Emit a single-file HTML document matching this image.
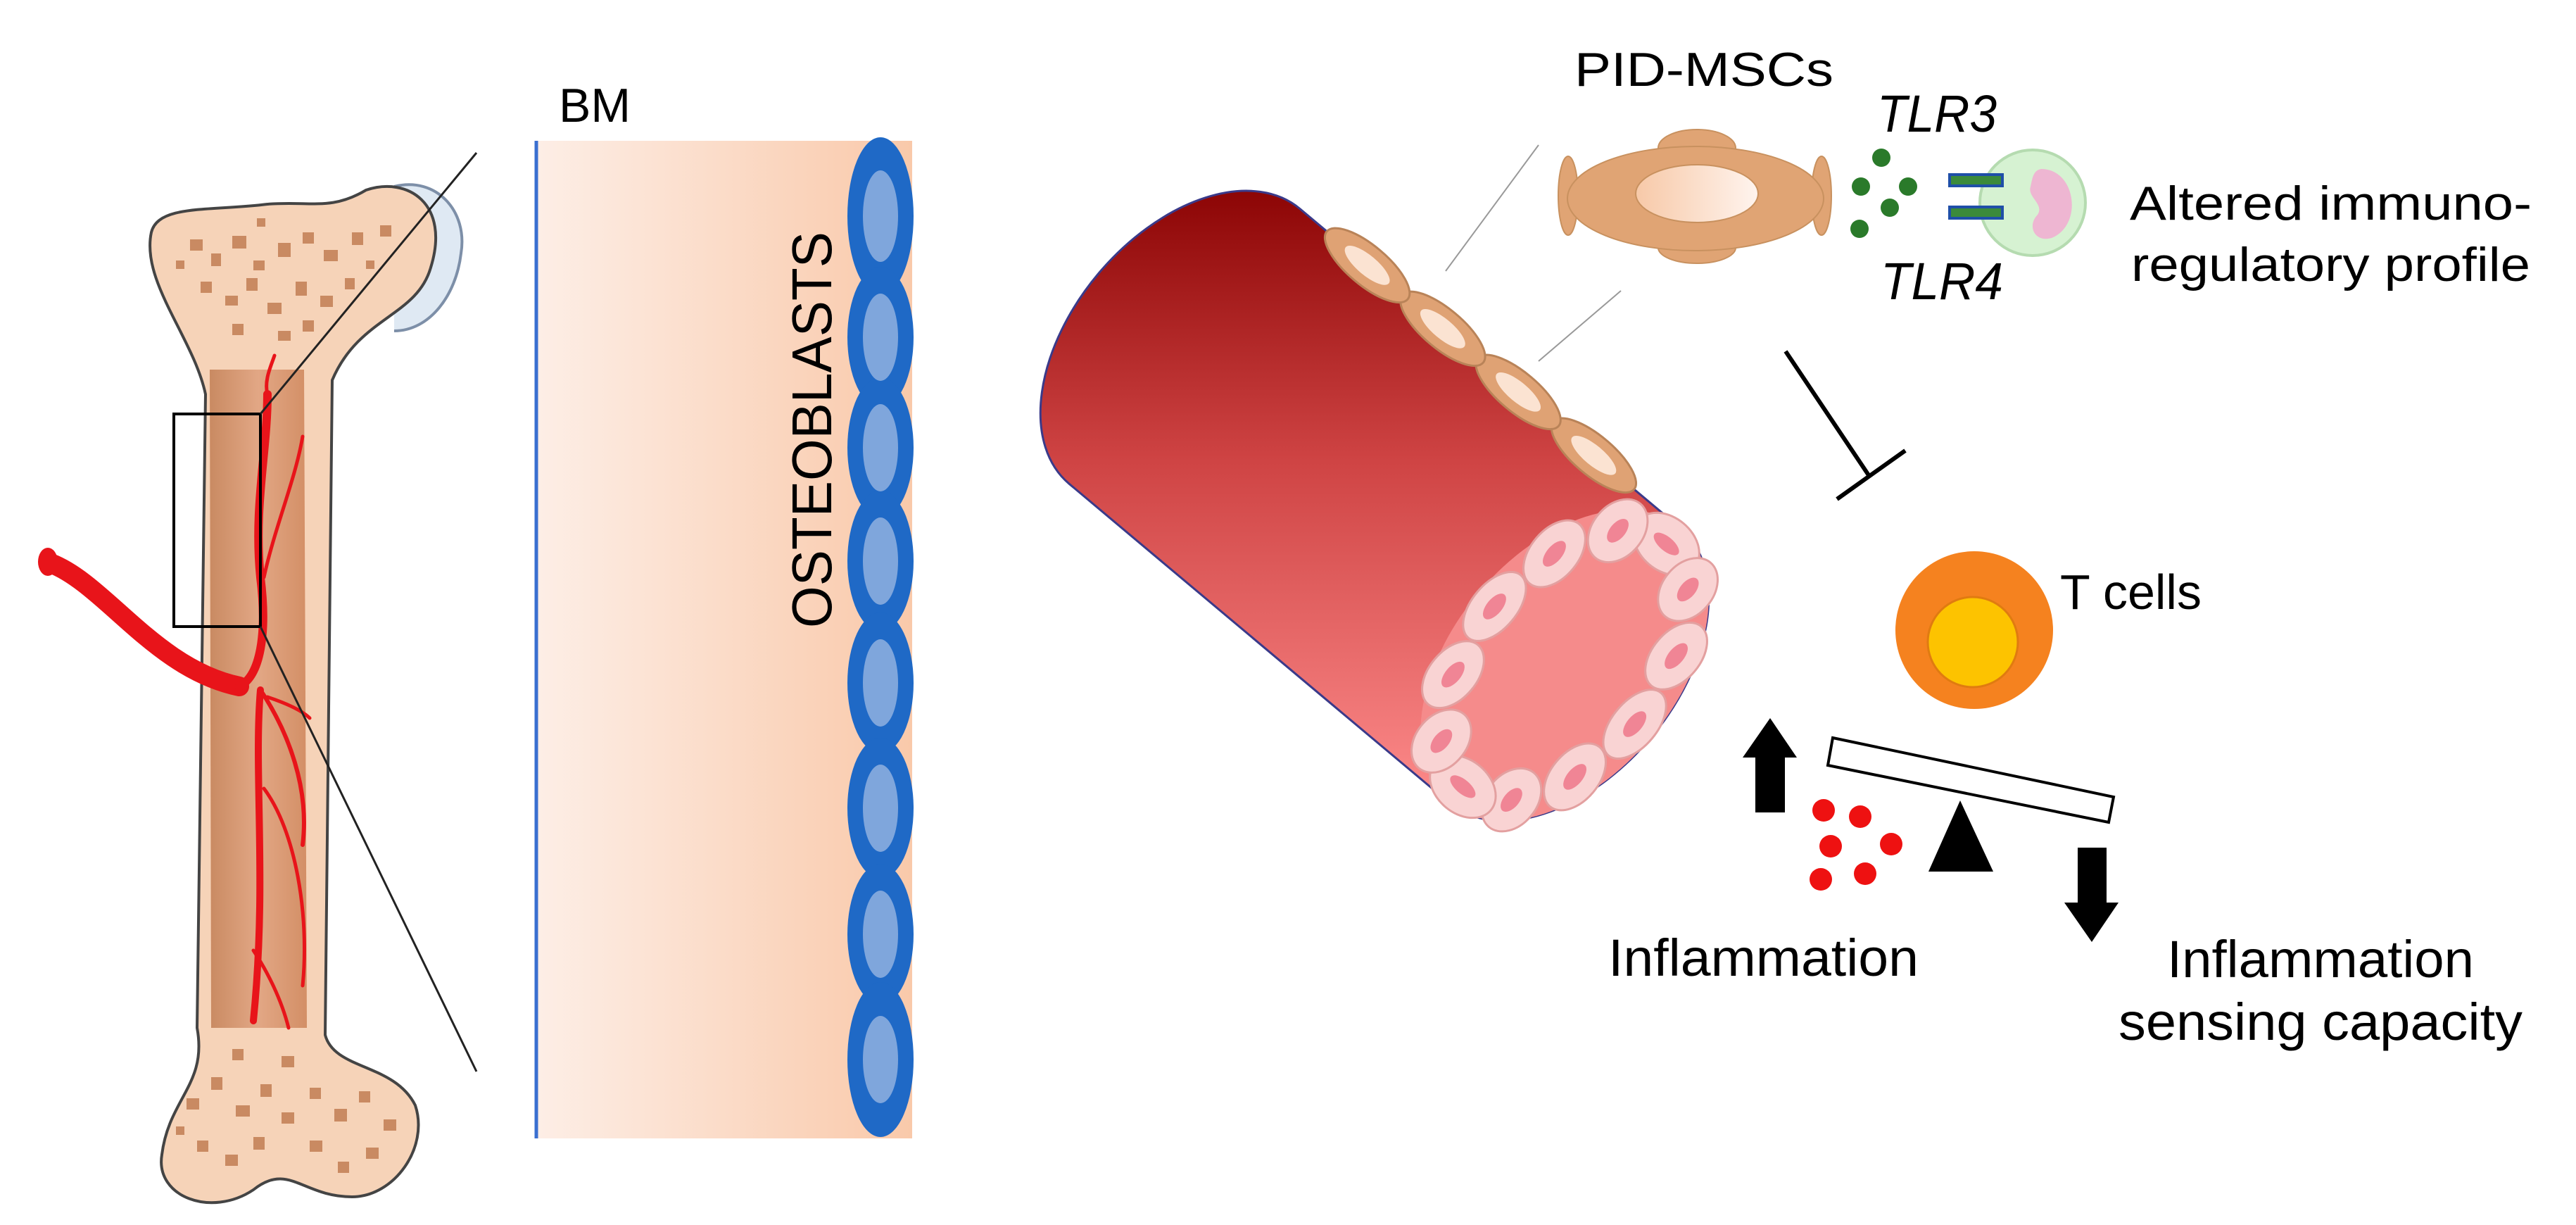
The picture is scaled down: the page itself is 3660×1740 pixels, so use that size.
<!DOCTYPE html>
<html><head><meta charset="utf-8"><style>
html,body{margin:0;padding:0;background:#fff;}
svg{display:block;}
text{font-family:"Liberation Sans",Arial,sans-serif;fill:#000;}
</style></head><body>
<svg width="3660" height="1740" viewBox="0 0 3660 1740" xmlns="http://www.w3.org/2000/svg">
<defs>
<linearGradient id="bm" x1="0" y1="0" x2="1" y2="0">
<stop offset="0" stop-color="#fdeee6"/><stop offset="1" stop-color="#f9c9aa"/></linearGradient>
<linearGradient id="med" x1="0" y1="0" x2="1" y2="0">
<stop offset="0" stop-color="#c98a62"/><stop offset="0.5" stop-color="#e2a785"/><stop offset="1" stop-color="#d38f66"/></linearGradient>
<linearGradient id="ves" gradientUnits="userSpaceOnUse" x1="397" y1="-624" x2="-312" y2="-30">
<stop offset="0" stop-color="#870000"/><stop offset="0.45" stop-color="#cf4444"/><stop offset="1" stop-color="#ff8e8e"/></linearGradient>
<linearGradient id="nuc" x1="0" y1="0" x2="1" y2="0">
<stop offset="0" stop-color="#f7c9a8"/><stop offset="1" stop-color="#fff4ee"/></linearGradient>
</defs>

<!-- Bone -->
<path d="M560,265 C620,250 665,300 655,360 C648,420 610,470 560,470" fill="#dfe9f3" stroke="#7d8fa8" stroke-width="4"/>
<path d="M292,560 C275,480 200,400 215,330 C225,290 300,300 380,290 C440,285 470,300 520,270 C580,250 640,290 612,380 C592,450 510,450 472,540 L462,1470 C475,1520 560,1510 590,1570 C610,1630 560,1700 500,1700 C430,1700 410,1650 360,1690 C300,1730 220,1700 230,1640 C240,1560 295,1540 280,1460 Z" fill="#f6d3b8" stroke="#444" stroke-width="4"/>
<path d="M298,525 L432,525 L436,1460 L300,1460 Z" fill="url(#med)"/>
<g fill="#c98a62">
<rect x="270" y="340" width="18" height="16"/><rect x="300" y="360" width="14" height="18"/><rect x="330" y="335" width="20" height="18"/><rect x="360" y="370" width="16" height="14"/><rect x="395" y="345" width="18" height="20"/><rect x="430" y="330" width="16" height="16"/><rect x="460" y="355" width="20" height="16"/><rect x="500" y="330" width="16" height="18"/><rect x="285" y="400" width="16" height="16"/><rect x="320" y="420" width="18" height="14"/><rect x="350" y="395" width="16" height="18"/><rect x="380" y="430" width="20" height="16"/><rect x="420" y="400" width="16" height="20"/><rect x="455" y="420" width="18" height="16"/><rect x="490" y="395" width="14" height="16"/><rect x="330" y="460" width="16" height="16"/><rect x="395" y="470" width="18" height="14"/><rect x="430" y="455" width="16" height="16"/><rect x="540" y="320" width="16" height="16"/><rect x="250" y="370" width="12" height="12"/><rect x="520" y="370" width="12" height="12"/><rect x="365" y="310" width="12" height="12"/>
<rect x="265" y="1560" width="18" height="16"/><rect x="300" y="1530" width="16" height="18"/><rect x="335" y="1570" width="20" height="16"/><rect x="370" y="1540" width="16" height="18"/><rect x="400" y="1580" width="18" height="16"/><rect x="440" y="1545" width="16" height="16"/><rect x="475" y="1575" width="18" height="18"/><rect x="510" y="1550" width="16" height="16"/><rect x="545" y="1590" width="18" height="16"/><rect x="280" y="1620" width="16" height="16"/><rect x="320" y="1640" width="18" height="16"/><rect x="360" y="1615" width="16" height="18"/><rect x="440" y="1620" width="18" height="16"/><rect x="480" y="1650" width="16" height="16"/><rect x="520" y="1630" width="18" height="16"/><rect x="330" y="1490" width="16" height="16"/><rect x="400" y="1500" width="18" height="16"/><rect x="250" y="1600" width="12" height="12"/>
</g>
<!-- artery -->
<g fill="none" stroke="#e8141a" stroke-linecap="round">
<path d="M72,800 C150,830 220,950 340,975" stroke-width="28"/>
<path d="M340,975 C370,960 380,900 370,820 C360,720 380,640 380,560" stroke-width="12"/>
<path d="M370,980 C360,1100 380,1250 360,1450" stroke-width="10"/>
<path d="M370,980 C410,1040 440,1120 430,1200" stroke-width="6"/>
<path d="M375,1120 C420,1180 440,1300 430,1400" stroke-width="5"/>
<path d="M375,820 C390,750 420,680 430,620" stroke-width="5"/>
<path d="M380,990 C410,1000 430,1010 440,1020" stroke-width="5"/>
<path d="M360,1350 C380,1380 400,1420 410,1460" stroke-width="5"/>
<path d="M380,560 C375,540 385,520 390,505" stroke-width="5"/>
</g>
<ellipse cx="68" cy="798" rx="14" ry="20" fill="#e8141a"/>
<rect x="247" y="588" width="123" height="302" fill="none" stroke="#000" stroke-width="4"/>
<line x1="370" y1="588" x2="677" y2="217" stroke="#222" stroke-width="3"/>
<line x1="370" y1="890" x2="677" y2="1522" stroke="#222" stroke-width="3"/>

<!-- BM panel -->
<rect x="762" y="200" width="534" height="1417" fill="url(#bm)"/>
<line x1="762" y1="200" x2="762" y2="1617" stroke="#3a6fd0" stroke-width="5"/>
<text x="794" y="173" font-size="68">BM</text>
<g fill="#1f69c6">
<ellipse cx="1251" cy="307" rx="47" ry="112"/><ellipse cx="1251" cy="479" rx="47" ry="100"/><ellipse cx="1251" cy="636" rx="47" ry="100"/><ellipse cx="1251" cy="797" rx="47" ry="100"/><ellipse cx="1251" cy="970" rx="47" ry="100"/><ellipse cx="1251" cy="1148" rx="47" ry="100"/><ellipse cx="1251" cy="1327" rx="47" ry="100"/><ellipse cx="1251" cy="1505" rx="47" ry="110"/>
</g>
<g fill="#7fa6dc">
<ellipse cx="1251" cy="307" rx="25" ry="65"/><ellipse cx="1251" cy="479" rx="25" ry="62"/><ellipse cx="1251" cy="636" rx="25" ry="62"/><ellipse cx="1251" cy="797" rx="25" ry="62"/><ellipse cx="1251" cy="970" rx="25" ry="62"/><ellipse cx="1251" cy="1148" rx="25" ry="62"/><ellipse cx="1251" cy="1327" rx="25" ry="62"/><ellipse cx="1251" cy="1505" rx="25" ry="62"/>
</g>
<text transform="translate(1181,892) rotate(-90)" font-size="80" textLength="563" lengthAdjust="spacingAndGlyphs">OSTEOBLASTS</text>

<!-- Vessel -->
<g transform="translate(2223,945) rotate(-50)">
<path d="M-255,0 L-255,-705 A255,160 0 0 1 255,-705 L255,0 A255,160 0 0 1 -255,0 Z" fill="url(#ves)" stroke="#3a3a8a" stroke-width="3"/>
<ellipse cx="0" cy="0" rx="255" ry="160" fill="#f58b8b"/>
<g fill="#f9d3d3" stroke="#e3a0a0" stroke-width="3">
<ellipse cx="225" cy="0" rx="38" ry="52"/><ellipse cx="195" cy="65" rx="50" ry="36"/><ellipse cx="112" cy="113" rx="55" ry="34"/><ellipse cx="0" cy="130" rx="58" ry="32"/><ellipse cx="-112" cy="113" rx="55" ry="34"/><ellipse cx="-195" cy="65" rx="50" ry="36"/><ellipse cx="-225" cy="0" rx="38" ry="52"/><ellipse cx="-195" cy="-65" rx="50" ry="36"/><ellipse cx="-112" cy="-113" rx="55" ry="34"/><ellipse cx="0" cy="-130" rx="58" ry="32"/><ellipse cx="112" cy="-113" rx="55" ry="34"/><ellipse cx="195" cy="-65" rx="50" ry="36"/>
</g>
<g fill="#f08595">
<ellipse cx="225" cy="0" rx="10" ry="22"/><ellipse cx="195" cy="65" rx="20" ry="11"/><ellipse cx="112" cy="113" rx="22" ry="11"/><ellipse cx="0" cy="130" rx="22" ry="11"/><ellipse cx="-112" cy="113" rx="22" ry="11"/><ellipse cx="-195" cy="65" rx="20" ry="11"/><ellipse cx="-225" cy="0" rx="10" ry="22"/><ellipse cx="-195" cy="-65" rx="20" ry="11"/><ellipse cx="-112" cy="-113" rx="22" ry="11"/><ellipse cx="0" cy="-130" rx="22" ry="11"/><ellipse cx="112" cy="-113" rx="22" ry="11"/><ellipse cx="195" cy="-65" rx="20" ry="11"/>
</g>
<g fill="#dfa274" stroke="#b98358" stroke-width="3">
<ellipse cx="255" cy="-160" rx="28" ry="75"/><ellipse cx="255" cy="-300" rx="28" ry="75"/><ellipse cx="255" cy="-440" rx="28" ry="75"/><ellipse cx="255" cy="-580" rx="28" ry="75"/>
</g>
<g fill="#fbe3d2">
<ellipse cx="255" cy="-160" rx="14" ry="40"/><ellipse cx="255" cy="-300" rx="14" ry="40"/><ellipse cx="255" cy="-440" rx="14" ry="40"/><ellipse cx="255" cy="-580" rx="14" ry="40"/>
</g>
</g>
<line x1="2054" y1="385" x2="2186" y2="206" stroke="#999" stroke-width="2"/>
<line x1="2186" y1="513" x2="2303" y2="413" stroke="#999" stroke-width="2"/>

<!-- MSC -->
<g fill="#e0a474" stroke="#c8915f" stroke-width="2">
<ellipse cx="2411" cy="210" rx="55" ry="26"/><ellipse cx="2411" cy="352" rx="55" ry="22"/>
<ellipse cx="2228" cy="278" rx="14" ry="56"/><ellipse cx="2588" cy="278" rx="14" ry="56"/>
<ellipse cx="2409" cy="282" rx="182" ry="74"/>
</g>
<ellipse cx="2411" cy="275" rx="87" ry="41" fill="url(#nuc)" stroke="#c8915f" stroke-width="2"/>
<text x="2237" y="122" font-size="68" textLength="368" lengthAdjust="spacingAndGlyphs">PID-MSCs</text>
<text x="2667" y="187" font-size="74" font-style="italic" textLength="170" lengthAdjust="spacingAndGlyphs">TLR3</text>
<text x="2672" y="425" font-size="74" font-style="italic" textLength="174" lengthAdjust="spacingAndGlyphs">TLR4</text>
<g fill="#2a7a2a">
<circle cx="2673" cy="224" r="13"/><circle cx="2644" cy="265" r="13"/><circle cx="2711" cy="265" r="13"/><circle cx="2685" cy="295" r="13"/><circle cx="2642" cy="325" r="13"/>
</g>
<circle cx="2888" cy="288" r="75" fill="#d6f2d2" stroke="#b5dbb0" stroke-width="4"/>
<path d="M2900,240 C2950,240 2960,320 2915,338 C2890,345 2880,320 2895,305 C2905,290 2880,280 2885,265 C2888,250 2890,242 2900,240 Z" fill="#eeb6d2"/>
<g fill="#3b8a3b" stroke="#1f4fa8" stroke-width="4">
<rect x="2770" y="248" width="75" height="16"/><rect x="2770" y="294" width="75" height="16"/>
</g>
<text x="3026" y="312" font-size="68" textLength="571" lengthAdjust="spacingAndGlyphs">Altered immuno-</text>
<text x="3028" y="399" font-size="68" textLength="567" lengthAdjust="spacingAndGlyphs">regulatory profile</text>

<line x1="2537" y1="499" x2="2655" y2="675" stroke="#000" stroke-width="6"/>
<line x1="2610" y1="709" x2="2707" y2="640" stroke="#000" stroke-width="6"/>

<circle cx="2805" cy="895" r="112" fill="#f5821f"/>
<circle cx="2803" cy="912" r="64" fill="#fdc300" stroke="#e07b10" stroke-width="3"/>
<text x="2927" y="865" font-size="70">T cells</text>

<polygon points="2604,1048 3003,1132 2996,1168 2597,1087" fill="#fff" stroke="#000" stroke-width="4"/>
<polygon points="2785,1137 2832,1238 2740,1238" fill="#000"/>
<polygon points="2494,1154 2536,1154 2536,1076 2553,1076 2515,1020 2476,1076 2494,1076" fill="#000"/>
<polygon points="2952,1204 2993,1204 2993,1282 3010,1282 2972,1338 2933,1282 2952,1282" fill="#000"/>
<g fill="#ee1111">
<circle cx="2591" cy="1151" r="16"/><circle cx="2643" cy="1160" r="16"/><circle cx="2601" cy="1202" r="16"/><circle cx="2687" cy="1199" r="16"/><circle cx="2587" cy="1249" r="16"/><circle cx="2650" cy="1241" r="16"/>
</g>
<text x="2285" y="1386" font-size="74" textLength="441" lengthAdjust="spacingAndGlyphs">Inflammation</text>
<text x="3079" y="1388" font-size="74" textLength="436" lengthAdjust="spacingAndGlyphs">Inflammation</text>
<text x="3010" y="1477" font-size="74" textLength="574" lengthAdjust="spacingAndGlyphs">sensing capacity</text>
</svg>
</body></html>
